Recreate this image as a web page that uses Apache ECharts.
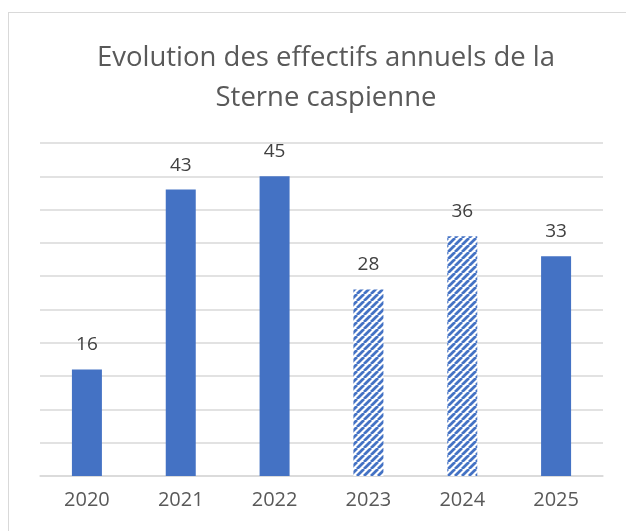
<!DOCTYPE html>
<html>
<head>
<meta charset="utf-8">
<script src="https://cdn.jsdelivr.net/npm/echarts@6/dist/echarts.min.js"></script>
<style>
  body { margin: 0; background: #fff; }
  #frame { position: absolute; left: 8px; top: 12px; width: 640px; height: 540px; border: 1px solid #d9d9d9; box-sizing: border-box; }
  #main { position: absolute; left: 0; top: 0; width: 626px; height: 531px; }
</style>
</head>
<body>
<div id="frame"></div>
<div id="main"></div>
<script>
var years = ['2020', '2021', '2022', '2023', '2024', '2025'];
var counts = [16, 43, 45, 28, 36, 33];
var hatched = [false, false, false, true, true, false];

// motif hachuré pour 2023 et 2024
function makeHatch() {
    var s = 7;
    var c = document.createElement('canvas');
    c.width = s; c.height = s;
    var ctx = c.getContext('2d');
    ctx.fillStyle = '#ffffff';
    ctx.fillRect(0, 0, s, s);
    ctx.strokeStyle = '#4472c4';
    ctx.lineWidth = 2.8;
    ctx.beginPath();
    for (var k = -2 * s; k <= 2 * s; k += s) {
        ctx.moveTo(k, s);
        ctx.lineTo(k + s, 0);
    }
    ctx.stroke();
    return c;
}
var hatch = makeHatch();

var myChart = echarts.init(document.getElementById('main'));
var option = {
    animation: false,
    title: {
        text: 'Evolution des effectifs annuels de la\nSterne caspienne',
        left: 321,
        textAlign: 'center',
        top: 33,
        textStyle: { fontFamily: 'Open Sans', fontWeight: 'normal', fontSize: 27.5, color: '#595959', lineHeight: 40 }
    },
    grid: { left: 40, right: 23, top: 143, bottom: 55 },
    xAxis: {
        type: 'category',
        data: years,
        axisTick: { show: false },
        axisLine: { lineStyle: { color: '#d9d9d9', width: 1.5 } },
        axisLabel: { fontFamily: 'Open Sans', fontSize: 20, color: '#595959', margin: 14 }
    },
    yAxis: {
        type: 'value',
        min: 0, max: 50, interval: 5,
        axisLabel: { show: false },
        axisLine: { show: false },
        splitLine: { lineStyle: { color: '#d9d9d9', width: 1.5 } }
    },
    series: [{
        type: 'bar',
        barWidth: 30,
        data: counts.map(function (v, i) {
            return { value: v, itemStyle: { color: hatched[i] ? { image: hatch, repeat: 'repeat' } : '#4472c4' } };
        }),
        label: { show: true, position: 'top', distance: 15, fontFamily: 'Open Sans', fontSize: 19, color: '#404040' }
    }]
};
myChart.setOption(option);
</script>
</body>
</html>
